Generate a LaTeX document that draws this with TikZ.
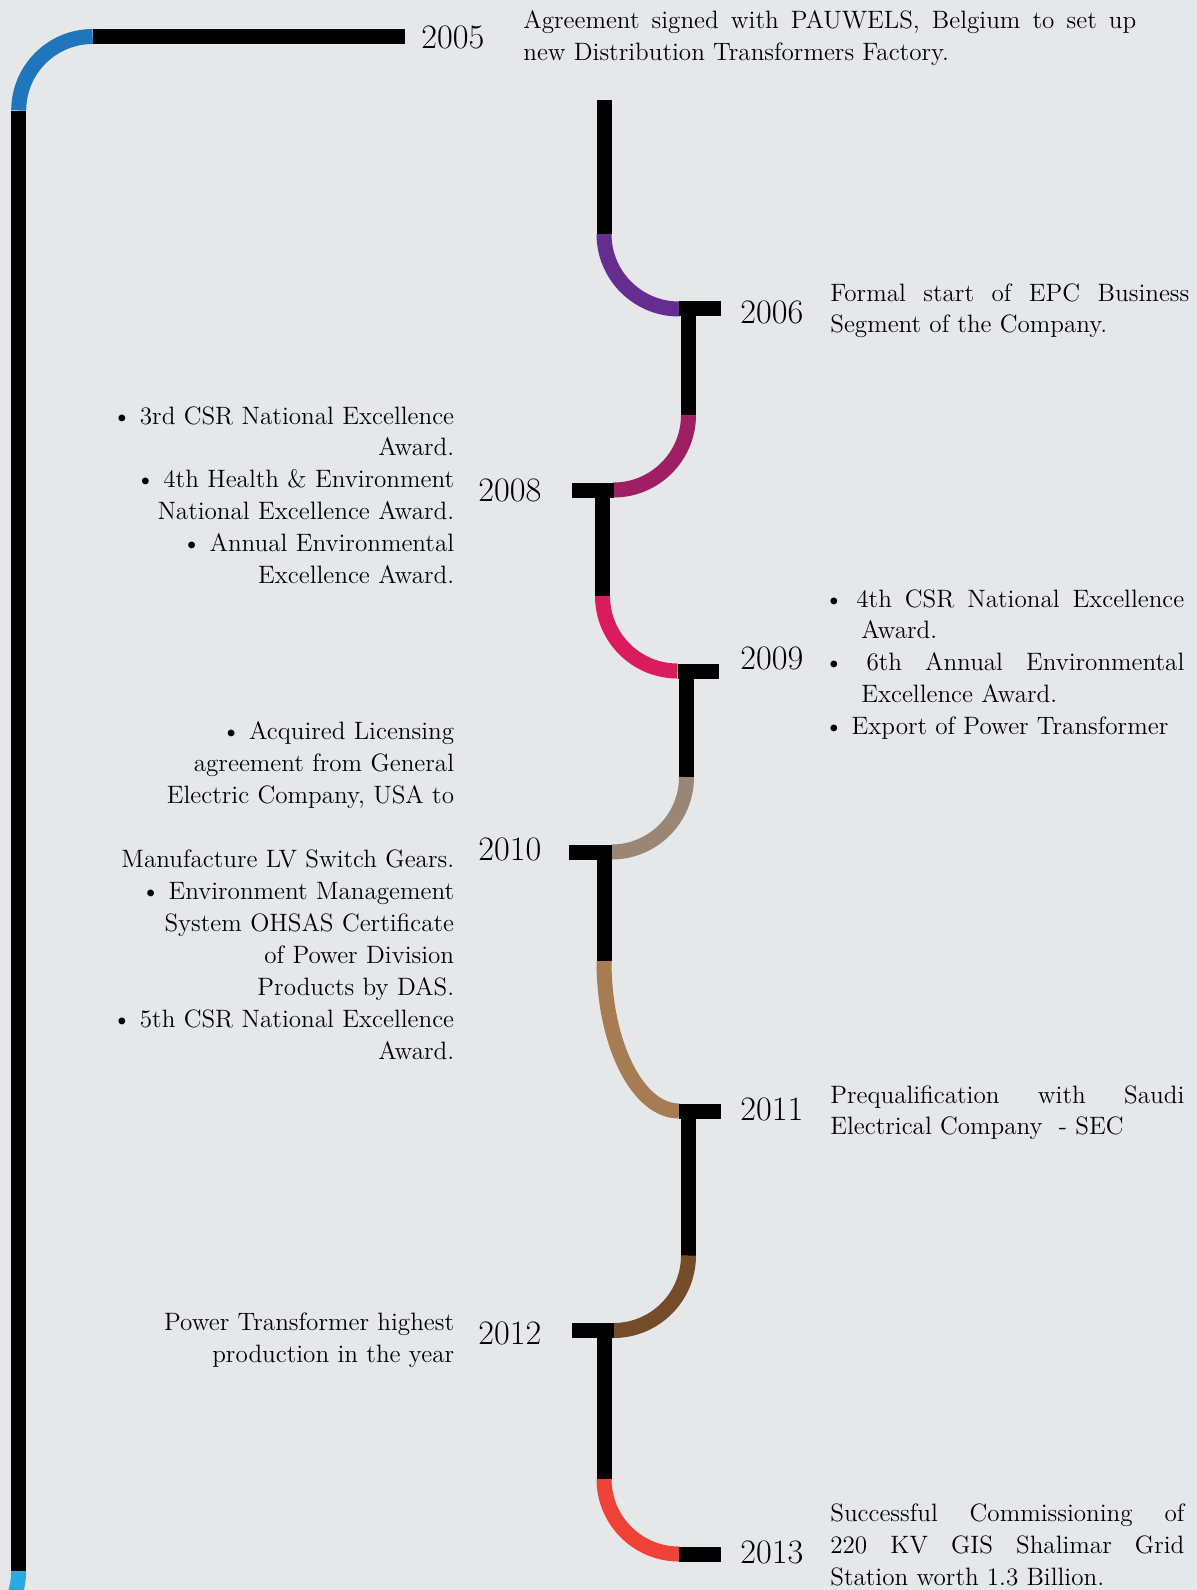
\documentclass[tikz,border=0pt]{standalone}
\usepackage{fontspec}
\usepackage{tikz}

\definecolor{paper}{HTML}{E6E7E8}
\definecolor{c2005}{HTML}{1F76BD}
\definecolor{c2006}{HTML}{662D91}
\definecolor{c2008}{HTML}{9E1F63}
\definecolor{c2009}{HTML}{DA1C5C}
\definecolor{c2010}{HTML}{998675}
\definecolor{c2011}{HTML}{A67C52}
\definecolor{c2012}{HTML}{754C29}
\definecolor{c2013}{HTML}{EF4136}
\definecolor{cnext}{HTML}{29ABE2}

\begin{document}
\begin{tikzpicture}[
  bar/.style={line width=0.3cm},
  yr/.style={anchor=base west,inner sep=0pt,font=\fontsize{19.5}{22}\selectfont},
  txt/.style={inner sep=0pt,font=\fontsize{14.3}{18.2}\selectfont},
  rtxt/.style={txt,anchor=base west,text width=7.08cm,align=justify},
  ltxt/.style={txt,anchor=base east,text width=7cm,align=right}]
%\draw[thin,gray] (0,0) grid (24,-32);

\fill[paper] (0,0) rectangle (23.94,-31.8);
\clip (0,0) rectangle (23.94,-31.8);

% left rail
\draw[bar](8.10,-0.73)--(1.854,-0.73);
\draw[bar,c2005](1.854,-0.73) arc (90:180:1.48);
\draw[bar](0.374,-2.21)--(0.374,-31.42);
\draw[bar,cnext](0.374,-31.42) arc (0:-25:1.48);

% zigzag
\draw[bar](12.08,-2.0)--(12.08,-4.68);
\draw[bar,c2006](12.08,-4.68) arc (180:270:1.5);
\draw[bar](13.58,-6.17)--(14.42,-6.17);
\draw[bar](13.77,-6.17)--(13.77,-8.3);
\draw[bar,c2008](13.77,-8.3) arc (0:-90:1.5);
\draw[bar](12.28,-9.8)--(11.44,-9.8);
\draw[bar](12.05,-9.8)--(12.05,-11.92);
\draw[bar,c2009](12.05,-11.92) arc (180:270:1.5);
\draw[bar](13.55,-13.42)--(14.38,-13.42);
\draw[bar](13.73,-13.42)--(13.73,-15.54);
\draw[bar,c2010](13.73,-15.54) arc (0:-90:1.5);
\draw[bar](12.24,-17.04)--(11.38,-17.04);
\draw[bar](12.08,-17.04)--(12.08,-19.22);
\draw[bar,c2011](12.08,-19.22) arc (180:270:1.5 and 3);
\draw[bar](13.58,-22.22)--(14.42,-22.22);
\draw[bar](13.77,-22.22)--(13.77,-25.11);
\draw[bar,c2012](13.77,-25.11) arc (0:-90:1.5);
\draw[bar](12.27,-26.61)--(11.44,-26.61);
\draw[bar](12.08,-26.61)--(12.08,-29.58);
\draw[bar,c2013](12.08,-29.58) arc (180:270:1.5);
\draw[bar](13.58,-31.08)--(14.42,-31.08);

% years
\node[yr] (y2005) at (8.42,-0.97) {2005};
\node[yr] (y2006) at (14.8,-6.46) {2006};
\node[yr] (y2008) at (9.56,-10.02) {2008};
\node[yr] (y2009) at (14.8,-13.38) {2009};
\node[yr] (y2010) at (9.56,-17.2) {2010};
\node[yr] (y2011) at (14.8,-22.4) {2011};
\node[yr] (y2012) at (9.56,-26.88) {2012};
\node[yr] (y2013) at (14.8,-31.26) {2013};

% texts
\node[rtxt,text width=12.26cm] (t2005) at (10.46,-0.57)
  {Agreement signed with PAUWELS, Belgium to set up\linebreak new Distribution Transformers Factory.};
\node[rtxt,text width=7.18cm] (t2006) at (16.6,-6.02)
  {Formal start of EPC Business\linebreak Segment of the Company.};
\node[ltxt] (t2008) at (9.09,-8.48)
  {\textbullet\ 3rd CSR National Excellence\\ Award.\\
   \textbullet\ 4th Health \& Environment\\ National Excellence Award.\\
   \textbullet\ Annual Environmental\\ Excellence Award.};
\node[rtxt,text width=7.2cm] (t2009) at (16.48,-12.14)
  {\hangindent=0.74cm\hangafter=1 \textbullet\ 4th CSR National Excellence\linebreak Award.\par
   \hangindent=0.74cm\hangafter=1 \textbullet\ 6th Annual Environmental\linebreak Excellence Award.\par
   \textbullet\ Export of Power Transformer};
\node[ltxt] (t2010) at (9.09,-14.79)
  {\textbullet\ Acquired Licensing\\ agreement from General\\ Electric Company, USA to\\[0.64cm]
   Manufacture LV Switch Gears.\\ \textbullet\ Environment Management\\
   System OHSAS Certificate\\ of Power Division\\ Products by DAS.\\
   \textbullet\ 5th CSR National Excellence\\ Award.};
\node[rtxt] (t2011) at (16.6,-22.06)
  {Prequalification with Saudi\linebreak Electrical Company~ - SEC};
\node[ltxt] (t2012) at (9.09,-26.6)
  {Power Transformer highest\\ production in the year};
\node[rtxt] (t2013) at (16.6,-30.43)
  {Successful Commissioning of\linebreak 220 KV GIS Shalimar Grid\linebreak Station worth 1.3 Billion.};
\end{tikzpicture}
\end{document}
